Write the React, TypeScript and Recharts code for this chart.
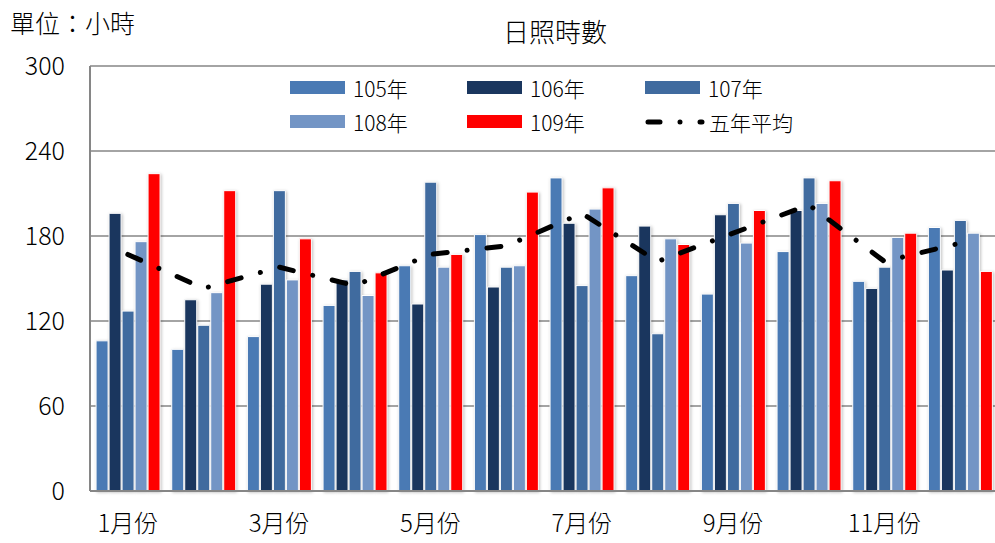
import {
  ComposedChart,
  Bar,
  Line,
  XAxis,
  YAxis,
  CartesianGrid,
} from "recharts";

const months = ["1月份", "2月份", "3月份", "4月份", "5月份", "6月份", "7月份", "8月份", "9月份", "10月份", "11月份", "12月份"];
const y105 = [106, 100, 109, 131, 159, 181, 221, 152, 139, 169, 148, 186];
const y106 = [196, 135, 146, 149, 132, 144, 189, 187, 195, 198, 143, 156];
const y107 = [127, 117, 212, 155, 218, 158, 145, 111, 203, 221, 158, 191];
const y108 = [176, 140, 149, 138, 158, 159, 199, 178, 175, 203, 179, 182];
const y109 = [224, 212, 178, 154, 167, 211, 214, 174, 198, 219, 182, 155];
const avg5 = [167, 143, 158, 145, 167, 173, 196, 162, 182, 202, 162, 175];
const yTicks = [0, 60, 120, 180, 240, 300];

const series = [
  { key: "105年", values: y105, color: "#4a7ab4" },
  { key: "106年", values: y106, color: "#1a365e" },
  { key: "107年", values: y107, color: "#406b9f" },
  { key: "108年", values: y108, color: "#7395c5" },
  { key: "109年", values: y109, color: "#ff0000" },
];

const data = months.map((m, i) => {
  const row: Record<string, string | number> = { month: m, avg: avg5[i] };
  series.forEach((s) => (row[s.key] = s.values[i]));
  return row;
});

const FONT = '"Noto Sans CJK TC", "Noto Sans", sans-serif';

// legend drawn as an overlay so it doesn't push the plot area down
function ChartLegend() {
  const items = [
    ...series.map((s) => ({ label: s.key, color: s.color, line: false })),
    { label: "五年平均", color: "#000", line: true },
  ];
  return (
    <div
      style={{
        position: "absolute",
        left: 290,
        top: 75,
        display: "grid",
        gridTemplateColumns: "177px 178px 200px",
        rowGap: 9,
        fontFamily: FONT,
        fontSize: 21,
        fontWeight: 300,
      }}
    >
      {items.map((it) => (
        <div key={it.label} style={{ display: "flex", alignItems: "center", height: 25 }}>
          {it.line ? (
            <svg width={60} height={14} style={{ marginRight: 4 }}>
              <line x1={3} y1={7} x2={57} y2={7} stroke="#000" strokeWidth={5} strokeLinecap="round" strokeDasharray="12 20 0.01 20" />
            </svg>
          ) : (
            <div style={{ width: 55, height: 13, background: it.color, marginRight: 8 }} />
          )}
          <span style={{ color: "#000" }}>{it.label}</span>
        </div>
      ))}
    </div>
  );
}

export default function App() {
  return (
    <div style={{ position: "absolute", left: 0, top: 0, width: 995, height: 543, overflow: "hidden", background: "#fff" }}>
      <style>{`.recharts-bar-rectangle path { filter: drop-shadow(1px 1px 1.5px rgba(0,0,0,0.25)); }`}</style>
      <div style={{ position: "absolute", left: 10, top: 4, fontFamily: FONT, fontSize: 25, fontWeight: 300, color: "#000" }}>單位：小時</div>
      <div style={{ position: "absolute", left: 503, top: 12, fontFamily: FONT, fontSize: 26, fontWeight: 300, color: "#000" }}>日照時數</div>
      <ComposedChart
        width={1000}
        height={543}
        data={data}
        margin={{ top: 66, right: 2, left: 0, bottom: 0 }}
        barCategoryGap="8%"
        barGap={1}
      >
        <CartesianGrid vertical={false} stroke="#868686" strokeWidth={1.5} />
        <XAxis
          dataKey="month"
          height={52}
          interval={1}
          tickLine={false}
          tickSize={0}
          tickMargin={24}
          axisLine={{ stroke: "#868686", strokeWidth: 2 }}
          tick={{ fill: "#000", fontSize: 24, fontWeight: 300, fontFamily: FONT }}
        />
        <YAxis
          width={90}
          domain={[0, 300]}
          ticks={yTicks}
          tickLine={false}
          tickSize={0}
          tickMargin={25}
          axisLine={{ stroke: "#868686", strokeWidth: 2 }}
          tick={{ fill: "#000", fontSize: 25, fontWeight: 300, fontFamily: FONT }}
        />
        {series.map((s) => (
          <Bar key={s.key} dataKey={s.key} fill={s.color} stroke="#fff" strokeWidth={1} isAnimationActive={false} />
        ))}
        <Line
          type="linear"
          dataKey="avg"
          name="五年平均"
          stroke="#000"
          strokeWidth={5}
          strokeLinecap="round"
          strokeDasharray="14 20 0.01 20"
          dot={false}
          activeDot={false}
          isAnimationActive={false}
        />
      </ComposedChart>
      <ChartLegend />
    </div>
  );
}
